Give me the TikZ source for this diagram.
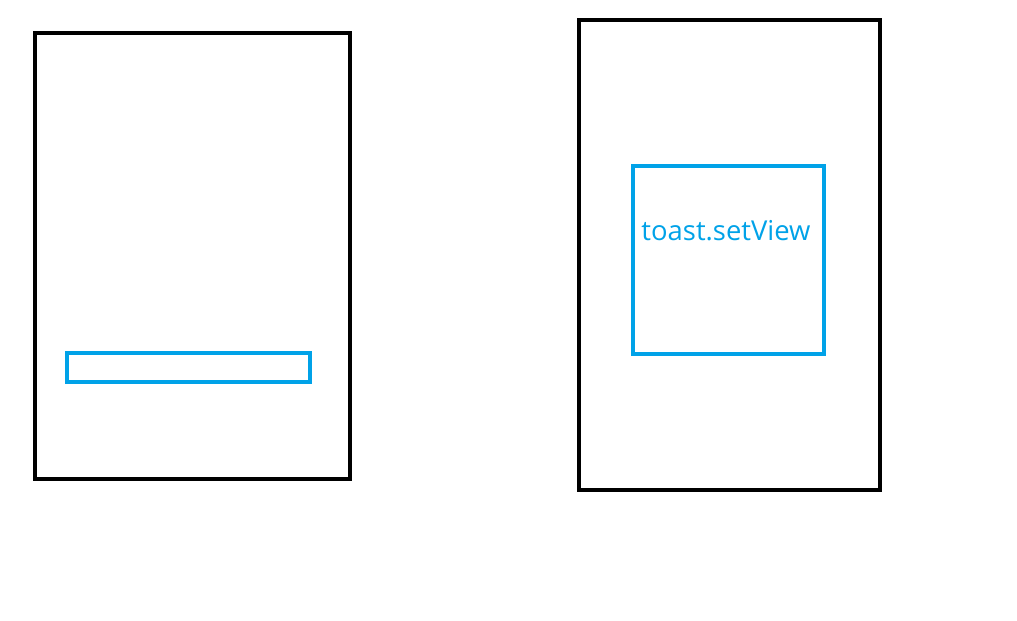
\documentclass[tikz,border=0pt]{standalone}
\usepackage{fontspec}
\setmainfont{Open Sans}
\definecolor{toastblue}{HTML}{00A2E8}
\tikzset{
  phone/.style={draw=black,line width=2.3pt},
  toastbox/.style={draw=toastblue,line width=2.3pt},
}
\begin{document}
\begin{tikzpicture}[x=0.02cm,y=-0.02cm]
    \useasboundingbox (0,0) rectangle (1017,621);
    % Default toast
    \draw[phone] (35,33) rectangle (350,479);
    \draw[toastbox] (67,353) rectangle (310,382);
    % Custom view toast
    \draw[phone] (579,20) rectangle (880,490);
    \draw[toastbox] (633,166) rectangle (824,354);
    \node[text=toastblue,font=\fontsize{15.6}{18}\selectfont] (setview) at (726,231) {toast.setView};
  \end{tikzpicture}
\end{document}
